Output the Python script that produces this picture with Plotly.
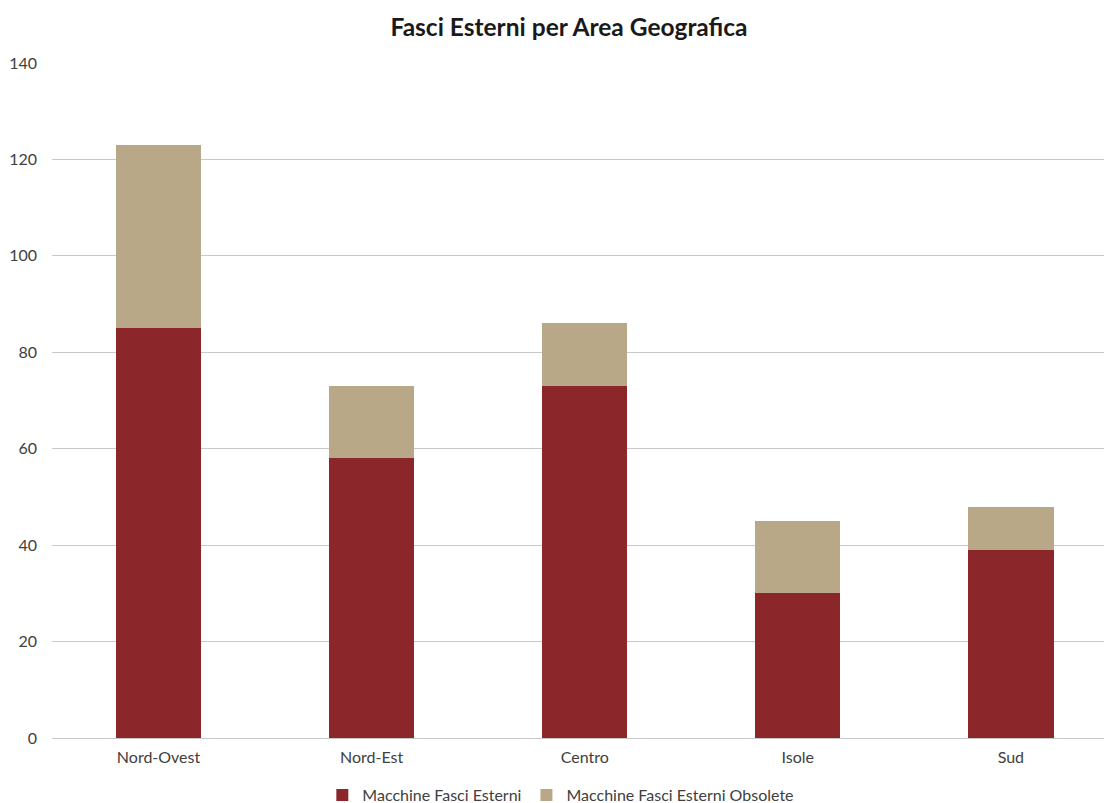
import plotly.graph_objects as go

# Data
aree = ['Nord-Ovest', 'Nord-Est', 'Centro', 'Isole', 'Sud']
fasci_esterni = [85, 58, 73, 30, 39]
fasci_obsolete = [38, 15, 13, 15, 9]

trace1 = go.Bar(x=aree, y=fasci_esterni, name='Macchine Fasci Esterni',
                marker=dict(color='#8B272B', line=dict(width=0)), width=0.4)
trace2 = go.Bar(x=aree, y=fasci_obsolete, name='Macchine Fasci Esterni Obsolete',
                marker=dict(color='#B8A887', line=dict(width=0)), width=0.4)

layout = go.Layout(
    title=dict(text='<b>Fasci Esterni per Area Geografica</b>', xref='container', x=569 / 1104,
               xanchor='center', yref='container', y=1 - 27 / 803, yanchor='middle',
               font=dict(family='Lato', size=24.5, color='#1a1a1a')),
    barmode='stack',
    width=1104, height=803,
    margin=dict(l=52, r=0, t=63, b=65, autoexpand=False),
    paper_bgcolor='white', plot_bgcolor='white',
    font=dict(family='Lato', size=16, color='#404040'),
    xaxis=dict(range=[-0.5, 4.437], showgrid=False, ticks='', automargin=False,
               ticklabelstandoff=8, tickfont=dict(size=16)),
    yaxis=dict(range=[0, 140], dtick=20, showgrid=True, gridcolor='#C8C8C8', gridwidth=1,
               zeroline=True, zerolinecolor='#C8C8C8', zerolinewidth=1, automargin=False,
               ticks='', ticklabelstandoff=14, tickfont=dict(size=16)),
    legend=dict(orientation='h', xref='container', x=0.508, xanchor='center',
                yref='container', y=1 - 795 / 803, yanchor='middle',
                font=dict(size=16, color='#404040'), traceorder='normal'),
    bargap=0.6,
)

fig = go.Figure(data=[trace1, trace2], layout=layout)
# remove the default page margin so the figure fills the window
fig.write_html('out.html', config={'displayModeBar': False},
               post_script="document.body.style.margin='0';")
